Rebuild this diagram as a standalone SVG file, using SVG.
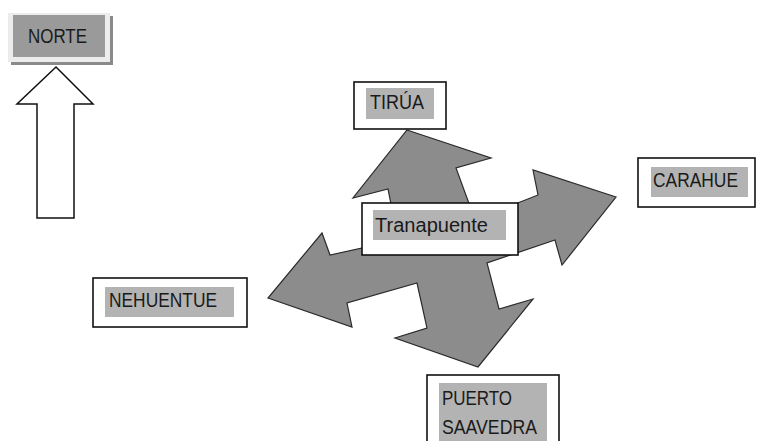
<svg xmlns="http://www.w3.org/2000/svg" width="758" height="441" viewBox="0 0 758 441">
<style>
.box{fill:#fff;stroke:#111;stroke-width:1.6}
.hl{fill:#b3b3b3}
.t{font-family:"Liberation Sans",Arial,sans-serif;font-size:20px;fill:#1a1a1a}
.arrow{fill:#8c8c8c;stroke:#2a2a2a;stroke-width:1.2;stroke-linejoin:miter}
</style>
<rect width="758" height="441" fill="#fff"/>
<g id="norte">
<rect x="11" y="16" width="102" height="49" fill="#8a8a8a"/>
<rect x="8" y="13" width="102" height="49" fill="#ececec"/>
<rect x="13" y="15" width="92" height="42" fill="#9a9a9a"/>
<text class="t" x="28" y="43" textLength="59" lengthAdjust="spacingAndGlyphs">NORTE</text>
</g>
<g id="north-arrow">
<polygon points="56,67 93,104 74,104 74,218 37,218 37,104 17,104" fill="#fff" stroke="#111" stroke-width="1.5"/>
</g>
<g id="connectors">
<polygon class="arrow" points="407,130 491,158 456,168 475,220 538,195 533,170 616,197 562,265 555,240 487,263 499,309 533,299 478,367 395,338 427,328 417,283 347,303 352,327 268,298 322,233 330,255 398,240 388,189 353,198"/>
</g>
<g id="tirua">
<rect class="box" x="354" y="82" width="92" height="47"/>
<rect class="hl" x="366" y="88" width="68" height="31"/>
<text class="t" x="370" y="109" textLength="54" lengthAdjust="spacingAndGlyphs">TIRÚA</text>
</g>
<g id="tranapuente">
<rect class="box" x="362" y="203" width="156" height="52"/>
<rect class="hl" x="373" y="210" width="133" height="30"/>
<text class="t" x="375" y="232" textLength="113" lengthAdjust="spacingAndGlyphs">Tranapuente</text>
</g>
<g id="carahue">
<rect class="box" x="638" y="158" width="117" height="49"/>
<rect class="hl" x="651" y="167" width="97" height="30"/>
<text class="t" x="653" y="187" textLength="85" lengthAdjust="spacingAndGlyphs">CARAHUE</text>
</g>
<g id="nehuentue">
<rect class="box" x="93" y="278" width="154" height="49"/>
<rect class="hl" x="105" y="287" width="129" height="30"/>
<text class="t" x="109" y="307" textLength="108" lengthAdjust="spacingAndGlyphs">NEHUENTUE</text>
</g>
<g id="puerto-saavedra">
<rect class="box" x="427" y="375" width="132" height="80"/>
<rect class="hl" x="439" y="383" width="108" height="70"/>
<text class="t" x="442" y="405" textLength="70" lengthAdjust="spacingAndGlyphs">PUERTO</text>
<text class="t" x="442" y="434" textLength="95" lengthAdjust="spacingAndGlyphs">SAAVEDRA</text>
</g>
</svg>
